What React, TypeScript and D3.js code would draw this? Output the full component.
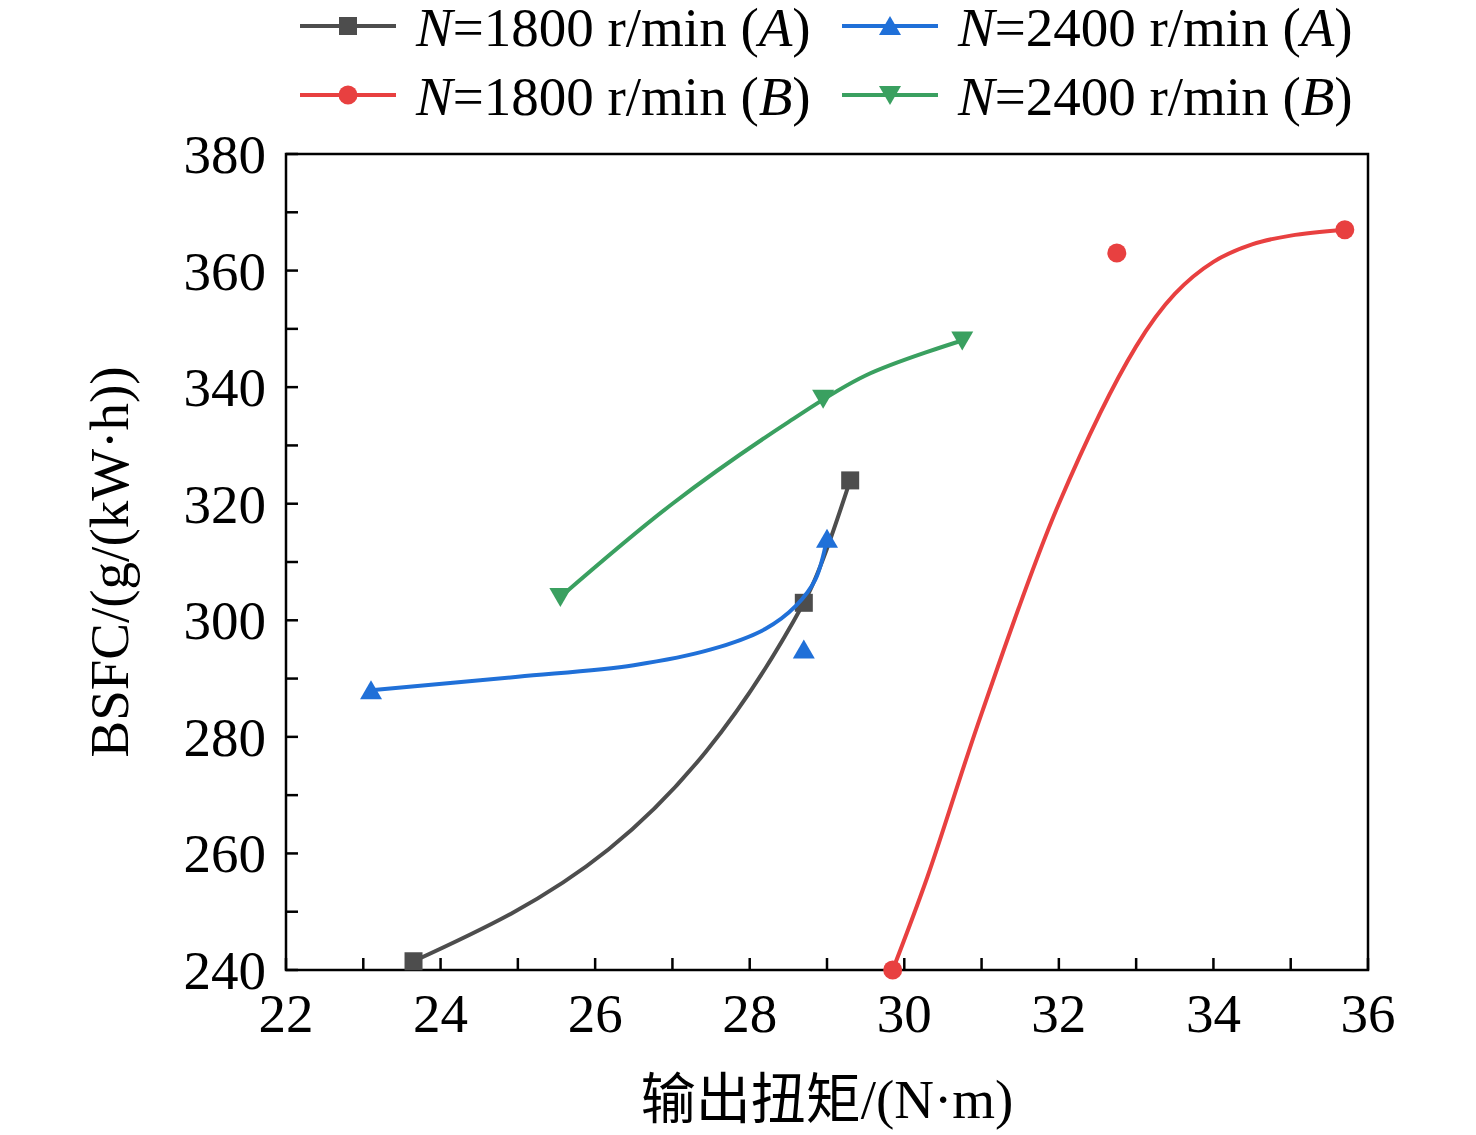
import React from "react";
import * as d3 from "d3";

const xTicks = [22, 24, 26, 28, 30, 32, 34, 36];
const yTicks = [240, 260, 280, 300, 320, 340, 360, 380];

const a1800X = [23.65, 28.7, 29.3];
const a1800Y = [241.5, 303, 324];
const b1800X = [29.85, 32.75, 35.7];
const b1800Y = [240, 363, 367];
const b1800FitX = [29.85, 30.3, 31, 32, 33, 33.5, 34, 34.5, 35, 35.7];
const b1800FitY = [240, 256, 284, 320, 347, 356, 361.5, 364.5, 366, 367];
const a2400X = [23.1, 28.7, 29.0];
const a2400Y = [288, 295, 314];
const a2400FitX = [23.1, 25, 26.5, 27.5, 28.2, 28.6, 28.85, 29.0];
const a2400FitY = [288, 290.3, 292.3, 295, 298.5, 302.5, 307, 314];
const b2400X = [25.55, 28.95, 30.75];
const b2400Y = [304, 338, 348];
const b2400FitX = [25.55, 27, 28.5, 29.5, 30.75];
const b2400FitY = [304, 320, 334, 342, 348];

const W = 1476, H = 1135;
const x = d3.scaleLinear().domain([22, 36]).range([286, 1368]);
const y = d3.scaleLinear().domain([240, 380]).range([970, 154]);
const font = "'Liberation Serif', 'Times New Roman', serif";

type S = { color: string; marker: string; px: number[]; py: number[]; fx: number[]; fy: number[]; rpm: string; g: string; mono?: boolean };
const series: S[] = [
  { color: "#4d4d4d", marker: "square", px: a1800X, py: a1800Y, fx: a1800X, fy: a1800Y, rpm: "1800", g: "A", mono: true },
  { color: "#e84040", marker: "circle", px: b1800X, py: b1800Y, fx: b1800FitX, fy: b1800FitY, rpm: "1800", g: "B" },
  { color: "#2070d8", marker: "up", px: a2400X, py: a2400Y, fx: a2400FitX, fy: a2400FitY, rpm: "2400", g: "A" },
  { color: "#3aa060", marker: "down", px: b2400X, py: b2400Y, fx: b2400FitX, fy: b2400FitY, rpm: "2400", g: "B" },
];

function Marker({ kind, cx, cy, color }: { kind: string; cx: number; cy: number; color: string }) {
  if (kind === "square") return <rect x={cx - 9} y={cy - 9} width={18} height={18} fill={color} />;
  if (kind === "circle") return <circle cx={cx} cy={cy} r={9.5} fill={color} />;
  if (kind === "up") return <path d={`M${cx},${cy - 10} L${cx + 11},${cy + 9} L${cx - 11},${cy + 9}Z`} fill={color} />;
  return <path d={`M${cx},${cy + 10} L${cx + 11},${cy - 9} L${cx - 11},${cy - 9}Z`} fill={color} />;
}

export default function App() {
  const line = d3.line<number>().curve(d3.curveCatmullRom.alpha(0.5));
  const lineMono = d3.line<number>().curve(d3.curveMonotoneX);
  const legendPos = [
    [300, 26], [300, 95], [842, 26], [842, 95],
  ];
  return (
    <svg width={W} height={H} style={{ display: "block", position: "absolute", left: 0, top: 0 }} fontFamily={font}>
      {d3.range(22, 36.01, 1).map((v) => (
        <line key={"xt" + v} x1={x(v)} x2={x(v)} y1={970} y2={958} stroke="#000" strokeWidth={2.5} />
      ))}
      {d3.range(240, 380.01, 10).map((v) => (
        <line key={"yt" + v} x1={286} x2={298} y1={y(v)} y2={y(v)} stroke="#000" strokeWidth={2.5} />
      ))}
      <rect x={286} y={154} width={1082} height={816} fill="none" stroke="#000" strokeWidth={2.5} />
      {xTicks.map((v) => (
        <text key={"xl" + v} x={x(v)} y={1032} fontSize={55} textAnchor="middle">{v}</text>
      ))}
      {yTicks.map((v) => (
        <text key={"yl" + v} x={266} y={y(v) + 19} fontSize={55} textAnchor="end">{v}</text>
      ))}
      <text x={827} y={1118} fontSize={55} textAnchor="middle" fontFamily={`${font}, 'Noto Sans CJK SC'`}>
        输出扭矩/(N·m)
      </text>
      <text transform="translate(128,562) rotate(-90)" fontSize={55} textAnchor="middle">BSFC/(g/(kW·h))</text>
      {series.map((s, i) => (
        <g key={i}>
          <path
            d={(s.mono ? lineMono : line)(s.fx.map((v, j) => [x(v), y(s.fy[j])]) as any) || ""}
            fill="none" stroke={s.color} strokeWidth={4}
          />
          {s.px.map((v, j) => (
            <Marker key={j} kind={s.marker} cx={x(v)} cy={y(s.py[j])} color={s.color} />
          ))}
        </g>
      ))}
      {series.map((s, i) => {
        const [lx, ly] = legendPos[i];
        return (
          <g key={"lg" + i}>
            <line x1={lx} x2={lx + 96} y1={ly} y2={ly} stroke={s.color} strokeWidth={4} />
            <Marker kind={s.marker} cx={lx + 48} cy={ly} color={s.color} />
            <text x={lx + 116} y={ly + 20} fontSize={55}>
              <tspan fontStyle="italic">N</tspan>={s.rpm} r/min (<tspan fontStyle="italic">{s.g}</tspan>)
            </text>
          </g>
        );
      })}
    </svg>
  );
}
